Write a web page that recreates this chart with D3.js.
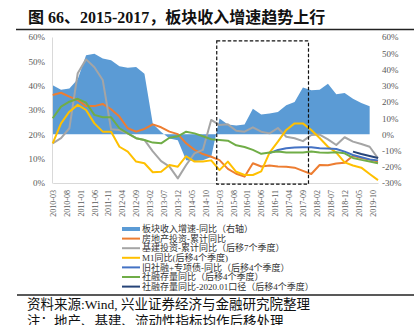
<!DOCTYPE html>
<html><head><meta charset="utf-8">
<script src="https://cdn.jsdelivr.net/npm/d3@7/dist/d3.min.js"></script>
<style>
html,body{margin:0;padding:0;background:#fff;}
svg{display:block;}
</style></head>
<body>
<svg id="c" width="414" height="325"></svg>
<script>
// ---- data ----
const quarters = ["2010-03","2010-06","2010-09","2010-12","2011-03","2011-06","2011-09","2011-12",
 "2012-03","2012-06","2012-09","2012-12","2013-03","2013-06","2013-09","2013-12",
 "2014-03","2014-06","2014-09","2014-12","2015-03","2015-06","2015-09","2015-12",
 "2016-03","2016-06","2016-09","2016-12","2017-03","2017-06","2017-09","2017-12",
 "2018-03","2018-06","2018-09","2018-12","2019-03","2019-06","2019-09","2019-12"];
const tickLabels = ["2010-03","2010-08","2011-01","2011-06","2011-11","2012-04","2012-09","2013-02",
 "2013-07","2013-12","2014-05","2014-10","2015-03","2015-08","2016-01","2016-06","2016-11",
 "2017-04","2017-09","2018-02","2018-07","2018-12","2019-05","2019-10"];
const leftTicks = [0,10,20,30,40,50,60];
const rightTicks = [-30,-20,-10,0,10,20,30,40,50,60];

// 板块收入增速-同比（右轴）
const revenue = [30.2,27.5,28.2,34.0,48.7,49.7,46.7,45.6,41.9,41.1,
 41.5,37.4,6.6,1.4,-2.5,-3.7,-16,-16.5,-16,-14,
 9.7,6.0,5.5,6.0,15.8,12.3,12.8,13.7,17.9,19.9,
 28.8,27.1,27.5,31.2,24.7,25.5,22.0,19.3,17.3,null];
// 房地产投资-累计同比
const realEstate = [36.2,37.1,35.5,34.1,31.6,31.6,32.5,30.3,27.3,22.5,
 21.1,22.2,24.1,22.9,21.1,20.1,16.3,13.6,11.9,10.8,
 9.4,5.8,3.8,2.6,8.1,6.8,7.2,6.8,6.7,6.3,
 5.0,3.7,7.4,7.3,8.0,8.3,11.2,10.3,9.6,8.8];
// 基建投资-累计同比（后移7个季度）
const infra = [16.3,18.4,22.5,45.1,50.8,47.6,42.3,22.1,21.8,20.4,
 18.4,17.7,13.0,9.0,6.7,1.9,7.4,12.2,13.6,25.9,
 23.8,24.1,21.5,21.1,22.9,21.1,20.4,22.6,19.0,18.4,
 17.2,19.7,19.9,17.9,15.6,18.8,17.0,16.0,14.9,10.1];
// M1同比(后移4个季度)
const m1 = [16.3,24.5,29.3,32.1,30.0,24.5,21.1,21.1,14.9,12.9,
 8.8,8.1,4.4,4.6,7.4,6.7,11.0,8.8,8.8,9.3,
 5.3,8.8,4.6,3.3,3.3,4.8,12.5,17.0,21.8,24.5,
 24.5,21.8,18.5,14.9,12.5,8.5,7.2,6.3,3.7,1.2];
// 旧社融+专项债-同比（后移4个季度）
const oldTsf = [null,null,null,null,null,null,null,null,null,null,
 null,null,null,null,null,null,null,null,null,null,
 null,null,null,null,null,null,12.3,13.6,14.3,14.6,
 14.7,14.7,14.3,14.2,14.0,12.9,11.5,10.6,9.7,9.3];
// 社融存量同比（后移4个季度）
const tsf = [26.6,31.4,33.4,34.6,33.0,28.0,27.0,27.0,22.5,20.4,
 18.4,17.7,16.6,16.3,18.6,19.2,21.1,20.4,19.2,18.0,
 17.7,17.4,15.5,14.8,13.6,12.0,12.5,12.9,12.5,12.5,
 12.5,12.9,12.5,12.4,12.6,12.2,10.3,9.5,8.8,8.1];
// 社融存量同比-2020.01口径（后移4个季度）
const tsfNew = [null,null,null,null,null,null,null,null,null,null,
 null,null,null,null,null,null,null,null,null,null,
 null,null,null,null,null,null,null,null,null,null,
 null,null,null,null,null,null,12.9,11.9,11.1,10.3];
const boxMonths = ["2015-02","2017-11"];
const boxValues = [-0.5, 58.4];

const legendNames = ["板块收入增速-同比（右轴）","房地产投资-累计同比","基建投资-累计同比（后移7个季度）",
 "M1同比(后移4个季度)","旧社融+专项债-同比（后移4个季度）","社融存量同比（后移4个季度）",
 "社融存量同比-2020.01口径（后移4个季度）"];

// ---- drawing ----
const colors = {area:"#5B9BD5", re:"#ED7D31", infra:"#A5A5A5", m1:"#FFC000", old:"#4472C4", tsf:"#70AD47", nw:"#264478"};
const svg = d3.select("#c");
const serif = "'Liberation Serif','Times New Roman',serif";
const cjk = "'Liberation Serif','Noto Sans CJK SC',sans-serif";

const mi = s => { const [y,m] = s.split("-").map(Number); return (y-2010)*12 + (m-3); };
const x = d3.scaleLinear().domain([0,117]).range([52.7,378]);
const yL = d3.scaleLinear().domain([0,60]).range([183,37]);
const yR = d3.scaleLinear().domain([-30,60]).range([183,37]);

// title
svg.append("text").attr("x",28).attr("y",23).attr("font-family",cjk).attr("font-weight","bold")
 .attr("font-size",16).attr("fill","#111").text("图 66、2015-2017，板块收入增速趋势上行");
svg.append("line").attr("x1",16).attr("x2",414).attr("y1",29.5).attr("y2",29.5).attr("stroke","#222").attr("stroke-width",1.5);

// area
const areaData = quarters.map((q,i)=>({x:mi(q), v:revenue[i]}));
svg.append("path").datum(areaData)
 .attr("d", d3.area().defined(d=>d.v!=null).x(d=>x(d.x)).y0(yR(0)).y1(d=>yR(d.v)))
 .attr("fill",colors.area);

// axes
const gl = svg.append("g").attr("transform","translate(52,0)")
 .call(d3.axisLeft(yL).tickValues(leftTicks).tickFormat(d=>d+"%").tickSize(0).tickPadding(7));
gl.select(".domain").attr("stroke","#D9D9D9");
gl.selectAll("text").attr("font-family",serif).attr("font-size",9).attr("fill","#595959");

const gr = svg.append("g").attr("transform","translate(378,0)")
 .call(d3.axisRight(yR).tickValues(rightTicks).tickFormat(d=>d+"%").tickSize(0).tickPadding(4));
gr.select(".domain").remove();
gr.selectAll("text").attr("font-family",serif).attr("font-size",9).attr("fill","#595959");

const gb = svg.append("g").attr("transform","translate(0,183)")
 .call(d3.axisBottom(x).tickValues(tickLabels.map(mi)).tickFormat((d,i)=>tickLabels[i]).tickSize(0));
gb.select(".domain").attr("stroke","#D9D9D9");
gb.selectAll("text").attr("font-family",serif).attr("font-size",8).attr("fill","#595959")
 .attr("transform","rotate(-90)").attr("text-anchor","end").attr("x",-7).attr("y",0).attr("dy","0.33em");

// lines
const series = [
 {vals:realEstate, c:colors.re},
 {vals:infra, c:colors.infra},
 {vals:m1, c:colors.m1},
 {vals:oldTsf, c:colors.old},
 {vals:tsf, c:colors.tsf},
 {vals:tsfNew, c:colors.nw}
];
const line = d3.line().defined(d=>d.v!=null).x(d=>x(d.x)).y(d=>yL(d.v));
series.forEach(s=>{
 svg.append("path").datum(quarters.map((q,i)=>({x:mi(q), v:s.vals[i]})))
  .attr("d",line).attr("fill","none").attr("stroke",s.c).attr("stroke-width",2)
  .attr("stroke-linejoin","round");
});

// dashed box
svg.append("rect").attr("x",x(mi(boxMonths[0]))).attr("y",yL(boxValues[1]))
 .attr("width",x(mi(boxMonths[1]))-x(mi(boxMonths[0]))).attr("height",yL(boxValues[0])-yL(boxValues[1]))
 .attr("fill","none").attr("stroke","#111").attr("stroke-width",1.2).attr("stroke-dasharray","3.5,2");

// legend
const legColors = [colors.area,colors.re,colors.infra,colors.m1,colors.old,colors.tsf,colors.nw];
const lg = svg.append("g");
legendNames.forEach((n,i)=>{
 const cy = 229 + i*9.6;
 lg.append("line").attr("x1",122).attr("x2",140).attr("y1",cy).attr("y2",cy)
  .attr("stroke",legColors[i]).attr("stroke-width", i===0?4:2);
 lg.append("text").attr("x",142).attr("y",cy).attr("dy","0.35em").attr("font-family",cjk)
  .attr("font-size",9).attr("fill","#333").text(n);
});

// footer
svg.append("line").attr("x1",17).attr("x2",414).attr("y1",295).attr("y2",295).attr("stroke","#222").attr("stroke-width",1.3);
svg.append("text").attr("x",27).attr("y",309).attr("font-family",cjk).attr("font-size",13.5).attr("fill","#111")
 .text("资料来源:Wind, 兴业证券经济与金融研究院整理");
svg.append("text").attr("x",27).attr("y",326).attr("font-family",cjk).attr("font-size",13.5).attr("fill","#111")
 .text("注：地产、基建、流动性指标均作后移处理");
</script>
</body></html>
